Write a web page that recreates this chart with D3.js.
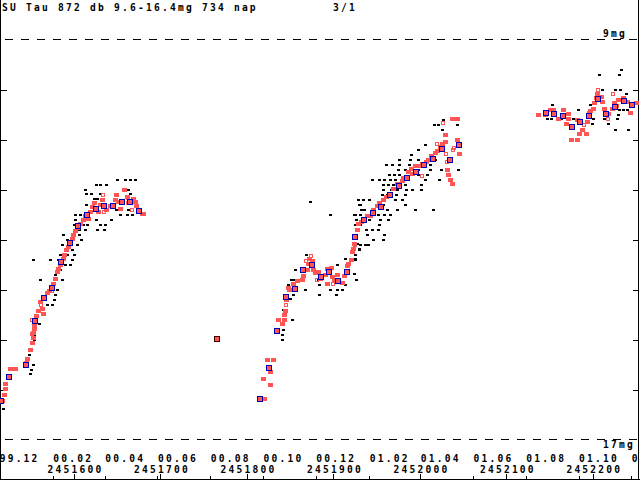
<!DOCTYPE html>
<html>
<head>
<meta charset="utf-8">
<script src="https://cdn.jsdelivr.net/npm/d3@7/dist/d3.min.js"></script>
<style>
  body { margin: 0; background: #fff; }
  svg { display: block; }
  text {
    font-family: "DejaVu Sans Mono", monospace;
    font-weight: bold;
    font-size: 9.6px;
    letter-spacing: 2.22px;
    fill: #000;
  }
</style>
</head>
<body>
<div id="chart"></div>
<script>
// SU Tau light curve, JD - 2450000 and visual magnitude

const titleText = "SU Tau 872 db 9.6-16.4mg 734 nap";
const pageText = "3/1";

// month ticks (every 2 months) and JD ticks along the bottom
const monthTicks = ["1999-12-01", "2000-02-01", "2000-04-01", "2000-06-01", "2000-08-01",
    "2000-10-01", "2000-12-01", "2001-02-01", "2001-04-01", "2001-06-01",
    "2001-08-01", "2001-10-01", "2001-12-01"];
const jdTicks = [1600, 1700, 1800, 1900, 2000, 2100, 2200];
const magTicks = [10, 11, 12, 13, 14, 15, 16];
const magLimits = [9, 17];

// single visual estimates (black dots)
const blackObs = [
    [1517.6, 16.40], [1549.2, 15.70], [1550.3, 15.60], [1552.3, 15.51], [1547.7, 15.30],
    [1554.2, 15.01], [1554.2, 14.90], [1559.9, 14.70], [1565.7, 14.50], [1574.3, 14.30],
    [1568.5, 14.30], [1576.9, 14.21], [1578.1, 14.10], [1580.1, 14.00], [1560.7, 13.80],
    [1585.8, 13.80], [1578.1, 13.71], [1583.9, 13.61], [1589.7, 13.51], [1595.4, 13.51],
    [1553.0, 13.41], [1572.3, 13.41], [1581.9, 13.41], [1597.4, 13.41], [1588.0, 13.41],
    [1583.9, 13.31], [1600.1, 13.31], [1592.4, 13.31], [1589.7, 13.21], [1597.4, 13.21],
    [1585.8, 13.11], [1603.2, 13.11], [1594.5, 13.11], [1591.6, 13.01], [1607.8, 13.01],
    [1599.0, 13.01], [1587.0, 12.90], [1597.4, 12.90], [1605.3, 12.90], [1603.2, 12.81],
    [1606.0, 12.81], [1612.8, 12.81], [1626.3, 12.81], [1634.7, 12.81], [1600.1, 12.71],
    [1604.5, 12.71], [1610.5, 12.71], [1614.7, 12.71], [1630.1, 12.71], [1635.9, 12.71],
    [1601.2, 12.61], [1609.0, 12.61], [1625.5, 12.61], [1642.5, 12.61], [1601.2, 12.50],
    [1607.0, 12.50], [1653.2, 12.50], [1661.0, 12.50], [1666.8, 12.50], [1613.9, 12.30],
    [1648.6, 12.40], [1662.5, 12.40], [1623.2, 12.20], [1626.3, 12.20], [1613.9, 12.10],
    [1619.4, 12.10], [1630.1, 12.10], [1612.8, 12.00], [1625.5, 11.90], [1630.1, 11.90],
    [1637.1, 11.90], [1649.4, 11.80], [1659.0, 11.80], [1664.8, 11.80], [1670.6, 11.80],
    [1662.8, 12.00], [1664.8, 12.10],
    // second rise
    [1872.9, 12.24], [1896.1, 12.50], [1929.2, 12.31], [1925.0, 12.50], [1926.1, 12.61],
    [1855.2, 13.61], [1868.3, 13.30], [1850.6, 13.80], [1853.6, 13.80], [1847.5, 13.90],
    [1867.1, 14.00], [1853.6, 14.10], [1849.8, 14.20], [1841.4, 14.40], [1851.8, 14.60],
    [1841.4, 14.80], [1840.2, 14.90], [1840.2, 15.00], [1883.3, 13.90], [1883.3, 14.10],
    [1896.1, 14.00], [1903.0, 14.10], [1903.8, 14.00], [1909.6, 14.00], [1904.5, 13.50],
    [1913.4, 13.90], [1923.8, 13.70], [1926.1, 13.80], [1924.6, 13.40], [1926.9, 13.10],
    [1929.2, 13.20], [1881.8, 13.80], [1863.3, 13.80],
    [1975.8, 11.41], [1988.9, 11.41], [1997.5, 11.41], [2008.5, 11.41], [2017.1, 11.41],
    [1960.4, 11.51], [1967.4, 11.51], [1976.2, 11.51], [1987.4, 11.51], [2005.9, 11.51], [2011.7, 11.51],
    [1974.7, 11.61], [1982.8, 11.61], [1997.5, 11.61], [2011.7, 11.61], [2024.0, 11.61], [2044.4, 11.61],
    [1964.6, 11.71], [1970.0, 11.71], [1976.2, 11.71], [1997.8, 11.71], [2008.5, 11.71],
    [1944.6, 11.81], [1953.1, 11.81], [1958.8, 11.81], [1965.4, 11.81], [1971.2, 11.81],
    [1977.8, 11.81], [2005.9, 11.81], [2022.4, 11.81],
    [1957.0, 11.91], [1962.8, 11.91], [1969.2, 11.91], [1982.8, 11.91], [2000.9, 11.91],
    [1957.7, 12.01], [1966.6, 12.01], [1973.2, 12.01], [1983.6, 12.01], [1990.9, 12.01], [2001.3, 12.01],
    [1955.8, 12.11], [1961.6, 12.11], [1972.4, 12.11], [1983.1, 12.11],
    [1928.8, 12.21], [1934.5, 12.21], [1941.1, 12.21], [1957.7, 12.21], [1971.2, 12.21], [1979.3, 12.21],
    [1930.7, 12.31], [1957.7, 12.31], [1982.8, 12.31],
    [1931.5, 12.41], [1935.7, 12.41], [1947.3, 12.41], [1961.6, 12.41], [1973.2, 12.41],
    [1994.3, 12.41], [2014.8, 12.41],
    [1924.1, 12.51], [1930.7, 12.51], [1951.9, 12.51], [1958.8, 12.51], [1965.4, 12.51],
    [1941.5, 12.61], [1953.9, 12.61], [1963.5, 12.61],
    [1925.0, 12.71], [1930.7, 12.71], [1953.1, 12.71],
    [1926.9, 12.81], [1937.3, 12.81], [1944.3, 12.81], [1951.2, 12.81],
    [1939.2, 12.91], [1958.8, 12.91], [1945.4, 13.01], [1957.7, 13.01],
    [1930.7, 13.11], [1936.5, 13.11], [1940.3, 13.11], [1929.6, 13.21], [1925.0, 13.31],
    [1913.4, 13.39], [1925.0, 13.39],
    [2027.1, 10.61], [2016.6, 10.71], [2021.3, 10.71], [2043.2, 10.71], [2025.9, 10.81],
    [2005.9, 11.11], [1989.4, 11.31], [1997.5, 11.21],
    // third season
    [2232.5, 9.61], [2207.1, 9.71], [2230.2, 9.71], [2225.6, 10.01], [2231.3, 10.01],
    [2238.3, 10.10], [2210.2, 10.01], [2152.4, 10.30], [2183.1, 10.40], [2198.6, 10.40],
    [2221.7, 10.40], [2230.5, 10.40], [2234.5, 10.40], [2239.1, 10.40], [2196.6, 10.30],
    [2229.0, 10.50], [2147.3, 10.60], [2151.2, 10.60], [2162.8, 10.60], [2177.4, 10.60],
    [2200.5, 10.60], [2212.8, 10.60], [2227.5, 10.60], [2198.6, 10.70], [2217.8, 10.70],
    [2225.6, 10.81], [2240.9, 10.81]
];

// estimates drawn as filled red marks
const redObs = [
    [1520.6, 15.89], [1520.6, 15.99], [1519.1, 16.11], [1525.5, 15.59], [1531.8, 15.59],
    [1545.4, 15.39], [1544.6, 15.47], [1549.2, 15.21], [1551.2, 15.07], [1552.3, 14.97],
    [1553.0, 14.87], [1554.2, 14.79], [1553.8, 14.71], [1556.1, 14.54], [1558.8, 14.44],
    [1562.7, 14.39], [1564.6, 14.49], [1560.7, 14.24], [1568.5, 14.07], [1571.5, 14.02],
    [1576.1, 13.88], [1578.1, 13.78], [1580.1, 13.64], [1581.9, 13.58], [1583.9, 13.51],
    [1587.0, 13.38], [1588.8, 13.31], [1590.8, 13.21], [1592.8, 13.14], [1597.4, 12.98],
    [1599.3, 12.91], [1601.2, 12.84], [1603.2, 12.77], [1607.0, 12.68], [1610.1, 12.61],
    [1612.8, 12.54], [1616.6, 12.60], [1618.6, 12.44], [1620.5, 12.36], [1623.2, 12.28],
    [1628.2, 12.44], [1630.1, 12.31], [1632.1, 12.21], [1637.1, 12.41], [1641.7, 12.33],
    [1647.5, 12.21], [1648.6, 12.11], [1651.3, 12.24], [1653.2, 12.38], [1657.9, 12.01],
    [1661.0, 12.14], [1662.8, 12.28], [1667.9, 12.18], [1670.6, 12.24], [1671.7, 12.34],
    [1678.3, 12.48], [1680.2, 12.49],
    [1819.7, 16.20], [1818.9, 15.79], [1826.7, 15.90], [1822.9, 15.41], [1830.5, 15.41],
    [1826.7, 15.64], [1840.2, 14.70], [1836.3, 14.60], [1842.9, 14.60], [1843.2, 14.51],
    [1844.0, 14.44], [1845.2, 14.21], [1849.0, 14.01], [1847.8, 13.96], [1853.6, 13.88],
    [1857.5, 13.82], [1863.3, 13.81], [1864.5, 13.72], [1869.8, 13.61], [1871.0, 13.48],
    [1872.1, 13.38], [1874.9, 13.43], [1876.7, 13.61], [1879.1, 13.68], [1882.5, 13.64],
    [1884.5, 13.78], [1890.3, 13.71], [1892.9, 13.58], [1896.9, 13.56], [1892.9, 13.89],
    [1898.0, 13.75], [1900.7, 13.81], [1904.5, 13.71], [1909.6, 13.86], [1912.2, 13.73],
    [1915.4, 13.54], [1917.2, 13.48], [1920.3, 13.40], [1923.0, 13.18], [1924.1, 13.08],
    [1927.6, 12.81], [1928.8, 12.68], [1921.1, 13.24], [1931.5, 12.64], [1938.5, 12.54],
    [1942.3, 12.53], [1946.1, 12.41], [1950.0, 12.34], [1953.1, 12.28], [1957.7, 12.21],
    [1960.8, 12.14], [1969.2, 11.98], [1973.2, 11.89], [1979.0, 11.84], [1980.8, 11.78],
    [1986.6, 11.64], [1989.4, 11.58], [1990.5, 11.68], [1994.3, 11.54], [1999.3, 11.53],
    [2002.1, 11.48], [2007.0, 11.44], [2009.7, 11.40], [2012.5, 11.34], [2017.5, 11.28],
    [2020.1, 11.23], [2023.2, 11.14], [2025.2, 11.08], [2029.0, 11.05], [2029.0, 10.91],
    [2037.5, 10.60], [2043.0, 10.60], [2042.5, 11.01], [2045.2, 11.29], [2031.0, 11.61],
    [2032.8, 11.71], [2034.8, 11.80], [2036.8, 11.89],
    [2136.5, 10.50], [2144.6, 10.50], [2150.4, 10.41], [2153.5, 10.40], [2160.0, 10.60],
    [2165.1, 10.40], [2171.6, 10.49], [2170.9, 10.60], [2168.9, 10.70], [2174.7, 11.00],
    [2181.6, 11.00], [2184.0, 10.89], [2192.0, 10.89], [2187.1, 10.80], [2181.3, 10.61],
    [2192.8, 10.64], [2196.6, 10.44], [2199.8, 10.38], [2201.6, 10.28], [2203.2, 10.18],
    [2204.4, 10.08], [2209.0, 10.14], [2210.2, 10.24], [2212.8, 10.38], [2217.8, 10.48],
    [2221.7, 10.38], [2224.4, 10.28], [2229.4, 10.21], [2234.5, 10.16], [2239.1, 10.24],
    [2242.9, 10.46], [2249.8, 10.28]
];

// estimates drawn as small open red squares
const openObs = [
    [1518.3, 16.23], [1551.8, 14.61], [1551.8, 14.89], [1561.9, 14.30], [1575.0, 14.04],
    [1633.2, 12.11], [1635.1, 12.45], [1666.8, 12.40], [1662.8, 12.16],
    [1845.2, 14.30], [1868.0, 13.43], [1873.7, 13.32], [1881.4, 13.81], [1899.2, 13.89],
    [1925.3, 13.11], [2026.7, 10.67], [2019.4, 11.08], [2030.2, 11.29], [2031.7, 11.44],
    [2037.9, 11.21], [2039.8, 11.16], [2002.1, 11.73],
    [2206.3, 10.00], [2222.9, 10.10], [2217.1, 10.60], [2190.1, 10.71], [2195.5, 10.46],
    [2228.2, 10.33]
];

// isolated estimate with dark outline
const faintObs = [[1765.4, 14.99]];

// 10-day means (blue squares)
const meanObs = [
    [1515.7, 16.23], [1525.3, 15.74], [1544.9, 15.50], [1555.3, 14.62], [1565.7, 14.16],
    [1575.0, 13.96], [1585.4, 13.44], [1595.4, 13.06], [1605.0, 12.72], [1615.4, 12.52],
    [1625.8, 12.38], [1635.1, 12.34], [1645.5, 12.34], [1655.9, 12.24], [1665.2, 12.24],
    [1675.6, 12.42],
    [1815.5, 16.20], [1825.9, 15.56], [1835.1, 14.82], [1845.5, 14.14], [1855.9, 13.98],
    [1865.2, 13.62], [1875.6, 13.52], [1886.0, 13.74], [1895.2, 13.64], [1905.6, 13.82],
    [1916.0, 13.64], [1925.3, 12.94], [1935.7, 12.61], [1946.1, 12.46], [1955.4, 12.36],
    [1965.8, 12.12], [1976.2, 11.92], [1985.4, 11.76], [1995.8, 11.64], [2005.1, 11.52],
    [2015.5, 11.38], [2025.9, 11.20], [2035.1, 11.40], [2045.5, 11.12],
    [2146.1, 10.46], [2155.4, 10.49], [2165.8, 10.54], [2176.2, 10.74], [2185.5, 10.64],
    [2195.9, 10.54], [2206.3, 10.20], [2215.5, 10.48], [2225.9, 10.34], [2236.3, 10.22],
    [2245.6, 10.30]
];

const width = 640;
const height = 480;
const red = "#ff5555";
const blue = "#0000b4";

const x = d3.scaleLinear().domain([1514.5, 2254.5]).range([0, width]);
const y = d3.scaleLinear().domain(magLimits).range([39.5, 439.5]);

// calendar date -> JD - 2450000
const toJD = s => Date.parse(s + "T00:00:00Z") / 864e5 + 2440587.5 - 2450000;
const monthFmt = d3.utcFormat("%y.%m");

const svg = d3.select("#chart")
    .append("svg")
    .attr("width", width)
    .attr("height", height)
    .style("shape-rendering", "crispEdges");

// frame: left and right edges
svg.append("line").attr("x1", 0.5).attr("x2", 0.5).attr("y1", 0).attr("y2", height)
    .attr("stroke", "#000");
svg.append("line").attr("x1", width - 1.5).attr("x2", width - 1.5).attr("y1", 0).attr("y2", height)
    .attr("stroke", "#000");

// magnitude ticks on both sides
svg.append("g")
    .attr("transform", "translate(0.5,0)")
    .call(d3.axisRight(y).tickValues(magTicks).tickSize(6).tickFormat(""))
    .call(g => g.select(".domain").remove());
svg.append("g")
    .attr("transform", `translate(${width - 1.5},0)`)
    .call(d3.axisLeft(y).tickValues(magTicks).tickSize(6).tickFormat(""))
    .call(g => g.select(".domain").remove());

// dashed limit lines
svg.selectAll(".limit")
    .data(magLimits)
    .join("line")
    .attr("class", "limit")
    .attr("x1", 5).attr("x2", width)
    .attr("y1", d => y(d)).attr("y2", d => y(d))
    .attr("stroke", "#000")
    .attr("stroke-dasharray", "8,8");

svg.append("text").attr("x", 603).attr("y", 37).text(magLimits[0] + "mg");
svg.append("text").attr("x", 603).attr("y", 448).text(magLimits[1] + "mg");

// bottom axis: month ticks with labels, then JD ticks
const monthJD = monthTicks.map(toJD);
const monthAxis = svg.append("g")
    .attr("transform", "translate(0,478.5)")
    .call(d3.axisTop(x).tickValues(monthJD).tickSize(3).tickSizeOuter(0)
        .tickFormat((d, i) => monthFmt(new Date(monthTicks[i] + "T00:00:00Z"))));
monthAxis.select(".domain").attr("stroke", "#000");
monthAxis.selectAll("text")
    .attr("y", -17).attr("dy", null)
    .attr("x", 0)
    .attr("text-anchor", "start")
    .attr("font-family", null).attr("font-size", null).attr("fill", null);

const jdAxis = svg.append("g")
    .attr("transform", "translate(0,478.5)")
    .call(d3.axisTop(x).tickValues(jdTicks).tickSize(5).tickSizeOuter(0)
        .tickFormat(d => String(d + 2450000)));
jdAxis.select(".domain").remove();
jdAxis.selectAll("text")
    .attr("y", -6).attr("dy", null)
    .attr("dx", 1)
    .attr("font-family", null).attr("font-size", null).attr("fill", null);

// observations
svg.append("g").selectAll("rect")
    .data(blackObs)
    .join("rect")
    .attr("x", d => Math.round(x(d[0])) - 1)
    .attr("y", d => Math.round(y(d[1])) - 1)
    .attr("width", 3)
    .attr("height", 2)
    .attr("fill", "#000");

svg.append("g").selectAll("rect")
    .data(redObs)
    .join("rect")
    .attr("x", d => Math.round(x(d[0])) - 2)
    .attr("y", d => Math.round(y(d[1])) - 2)
    .attr("width", 5)
    .attr("height", 4)
    .attr("fill", red);

svg.append("g").selectAll("rect")
    .data(openObs)
    .join("rect")
    .attr("x", d => Math.round(x(d[0])) - 1.5)
    .attr("y", d => Math.round(y(d[1])) - 1.5)
    .attr("width", 3)
    .attr("height", 3)
    .attr("fill", "none")
    .attr("stroke", red);

svg.append("g").selectAll("rect")
    .data(faintObs)
    .join("rect")
    .attr("x", d => Math.round(x(d[0])) - 2.5)
    .attr("y", d => Math.round(y(d[1])) - 2.5)
    .attr("width", 5)
    .attr("height", 5)
    .attr("fill", red)
    .attr("stroke", "#400000");

svg.append("g").selectAll("rect")
    .data(meanObs)
    .join("rect")
    .attr("x", d => Math.round(x(d[0])) - 2.5)
    .attr("y", d => Math.round(y(d[1])) - 2.5)
    .attr("width", 5)
    .attr("height", 5)
    .attr("fill", red)
    .attr("stroke", blue)
    .attr("stroke-width", 1.4);

// header
svg.append("text").attr("x", 2).attr("y", 11).text(titleText);
svg.append("text").attr("x", 333).attr("y", 11).text(pageText);
</script>
</body>
</html>
